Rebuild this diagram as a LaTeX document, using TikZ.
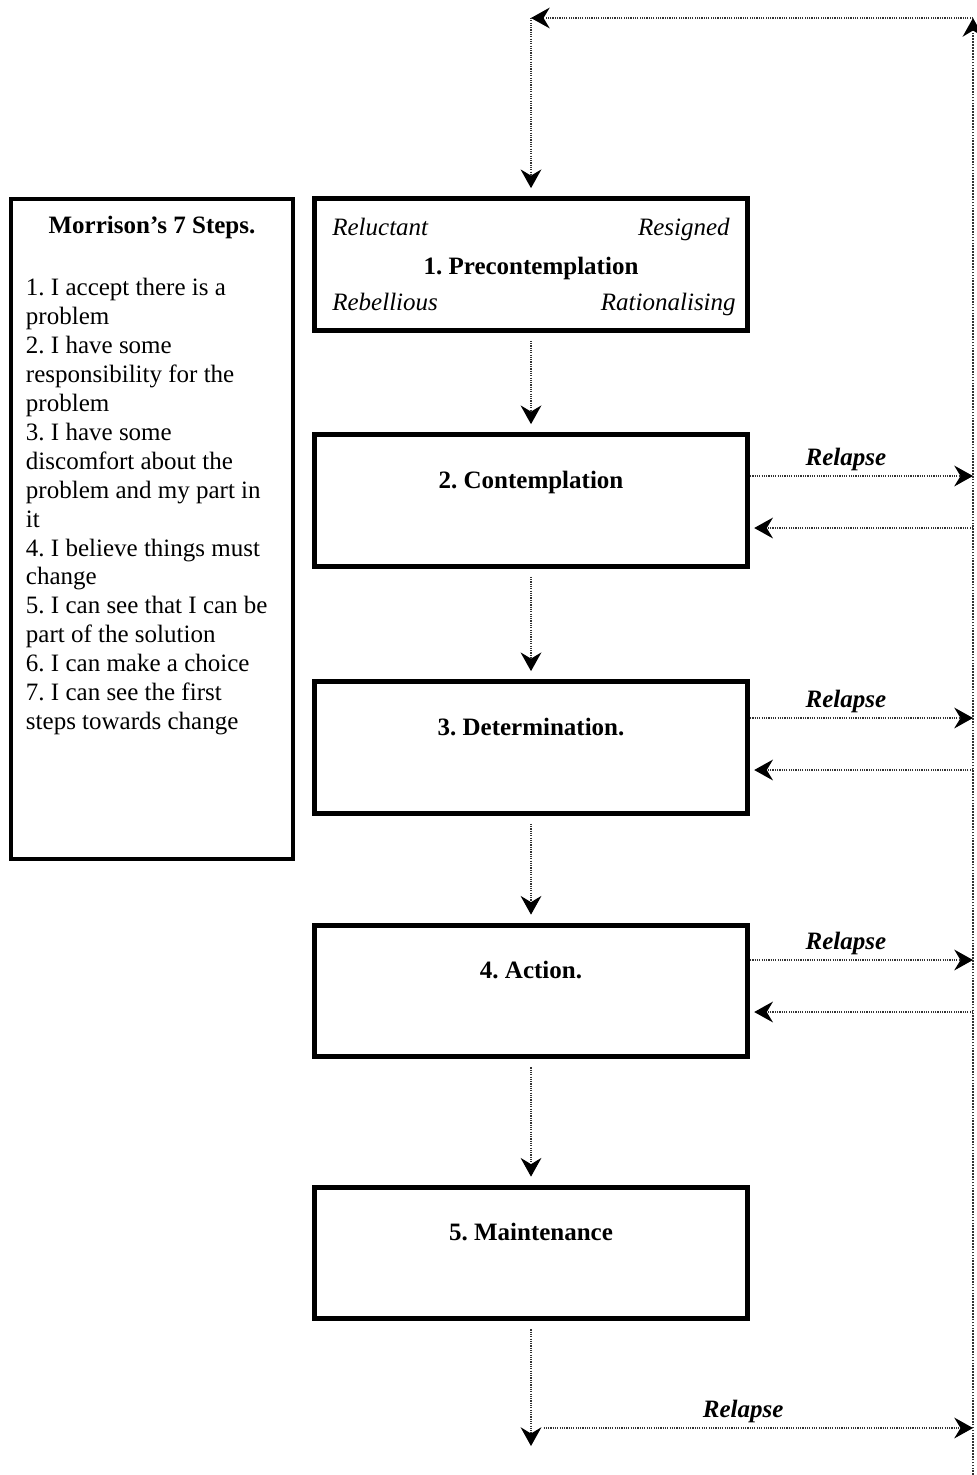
\documentclass[tikz,border=0pt]{standalone}
\usepackage{fontspec}
\setmainfont{Liberation Serif}
\usetikzlibrary{arrows.meta,calc}
\frenchspacing

\begin{document}
\begin{tikzpicture}[x=0.48pt,y=-0.48pt,font=\fontsize{12}{13.9}\selectfont,
	stage/.style={draw,line width=2.3pt,minimum width=208pt,minimum height=63pt,inner sep=0pt,text height=25.6pt,text depth=37.4pt,font=\fontsize{12}{13.9}\selectfont\bfseries},
	flow/.style={black!80,line width=0.55pt,dash pattern=on 0.55pt off 0.55pt,-{Stealth[length=9pt,width=10pt,inset=3pt,black]}},
	relapse/.style={text=black,font=\fontsize{12}{13.9}\selectfont\bfseries\itshape,inner sep=2pt}]
	\useasboundingbox (0,0) rectangle (976,1475);
	\node[draw,line width=2.3pt,minimum width=135.4pt,minimum height=316.8pt] (M) at (152,529) {};
	\node[anchor=base,font=\fontsize{12}{13.9}\selectfont\bfseries] (MT) at ($(M.north)+(0,37)$) {Morrison’s 7 Steps.};
	\node[anchor=north west,align=left,inner sep=0pt] (ML) at ($(M.north west)+(17,81)$) {1. I accept there is a\\problem\\2. I have some\\responsibility for the\\problem\\3. I have some\\discomfort about the\\problem and my part in\\it\\4. I believe things must\\change\\5. I can see that I can be\\part of the solution\\6. I can make a choice\\7. I can see the first\\steps towards change};
	\node[stage,text height=36.5pt,text depth=26.5pt] (S1) at (531,264.5) {1. Precontemplation};
	\node[stage] (S2) at (531,500.5) {2. Contemplation};
	\node[stage] (S3) at (531,747.5) {3. Determination.};
	\node[stage] (S4) at (531,991) {4. Action.};
	\node[stage] (S5) at (531,1253) {5. Maintenance};
	\node[anchor=base west,font=\fontsize{12}{13.9}\selectfont\itshape,inner sep=0pt] (W1) at ($(S1.north west)+(20,39)$) {Reluctant};
	\node[anchor=base east,font=\fontsize{12}{13.9}\selectfont\itshape,inner sep=0pt] (W2) at ($(S1.north east)+(-20,39)$) {Resigned};
	\node[anchor=base west,font=\fontsize{12}{13.9}\selectfont\itshape,inner sep=0pt] (W3) at ($(S1.south west)+(20,-22)$) {Rebellious};
	\node[anchor=base east,font=\fontsize{12}{13.9}\selectfont\itshape,inner sep=0pt] (W4) at ($(S1.south east)+(-14,-22)$) {Rationalising};
	\coordinate (TL) at (531,18);
	\coordinate (TR) at (973,18);
	\coordinate (BR) at (973,1475);
	\coordinate (BL) at (531,1428);
	\coordinate (BE) at (531,1446);
	\draw[flow,line width=0.8pt,dash pattern=on 0.8pt off 0.6pt] (BR) -- (TR);
	\draw[flow] (TR) -- (TL);
	\draw[flow,shorten >=4pt] (TL) -- (S1);
	\foreach \a/\b in {S1/S2, S2/S3, S3/S4, S4/S5}
		\draw[flow,shorten <=4pt,shorten >=4pt] (\a) -- (\b);
	\foreach \s/\o/\i in {S2/476/528, S3/718/770, S4/960/1012} {
		\draw[flow] (\s.east |- 0,\o) -- (TR |- 0,\o) node[relapse,above,pos=0.43] {Relapse};
		\draw[flow,shorten >=2pt] (TR |- 0,\i) -- (\s.east |- 0,\i);
	}
	\draw[flow,shorten <=4pt] (S5) -- (BE);
	\draw[flow,shorten <=6pt] (BL) -- (BL -| TR) node[relapse,above,pos=0.48] {Relapse};
\end{tikzpicture}
\end{document}
